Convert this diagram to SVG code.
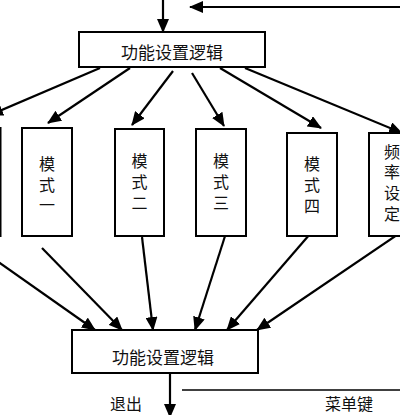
<svg xmlns="http://www.w3.org/2000/svg" width="400" height="415" viewBox="0 0 400 415">
<style>
.box{fill:#fff;stroke:#000;stroke-width:2}
.t{font-family:"Noto Sans CJK SC","Liberation Serif",serif;font-size:17px;fill:#111;text-anchor:middle;dominant-baseline:central}
.v{font-size:16px}
.c{stroke:#000;stroke-width:2.2;fill:none}
</style>
<defs>
<marker id="ah" markerUnits="userSpaceOnUse" markerWidth="14" markerHeight="12" viewBox="0 0 14 12" refX="13" refY="6" orient="auto">
<path d="M0,0 L14,6 L0,12 Z" fill="#000"/>
</marker>
</defs>
<rect width="400" height="415" fill="#fff"/>
<g id="connectors">
<line class="c" x1="163" y1="0" x2="163" y2="32" marker-end="url(#ah)"/>
<line class="c" x1="400" y1="7" x2="190" y2="7" marker-end="url(#ah)"/>
<line class="c" x1="100" y1="68" x2="-10" y2="115" marker-end="url(#ah)"/>
<line class="c" x1="130" y1="68" x2="48" y2="123" marker-end="url(#ah)"/>
<line class="c" x1="173" y1="71" x2="132" y2="125" marker-end="url(#ah)"/>
<line class="c" x1="192" y1="73" x2="224" y2="126" marker-end="url(#ah)"/>
<line class="c" x1="220" y1="68" x2="321" y2="128" marker-end="url(#ah)"/>
<line class="c" x1="245" y1="68" x2="402" y2="133" marker-end="url(#ah)"/>
<line class="c" x1="-20" y1="249" x2="95" y2="330" marker-end="url(#ah)"/>
<line class="c" x1="42" y1="248" x2="122" y2="330" marker-end="url(#ah)"/>
<line class="c" x1="142" y1="237" x2="153" y2="330" marker-end="url(#ah)"/>
<line class="c" x1="226" y1="233" x2="195" y2="330" marker-end="url(#ah)"/>
<line class="c" x1="310" y1="234" x2="227" y2="330" marker-end="url(#ah)"/>
<line class="c" x1="400" y1="233" x2="257" y2="330" marker-end="url(#ah)"/>
<line class="c" x1="170" y1="373" x2="170" y2="417" marker-end="url(#ah)"/>
<line x1="182" y1="390" x2="400" y2="390" stroke="#000" stroke-width="1.5"/>
</g>
<g id="top">
<rect class="box" x="79" y="32" width="186" height="35"/>
<text class="t" x="172" y="51">功能设置逻辑</text>
</g>
<g id="m0">
<rect class="box" x="-50" y="128" width="50.5" height="108"/>
</g>
<g id="m1">
<rect class="box" x="22" y="128" width="50" height="108"/>
<text class="t v" x="47" y="163">模<tspan x="47" dy="21">式</tspan><tspan x="47" dy="20">一</tspan></text>
</g>
<g id="m2">
<rect class="box" x="115" y="129" width="49" height="107"/>
<text class="t v" x="139.5" y="160">模<tspan x="139.5" dy="21">式</tspan><tspan x="139.5" dy="21">二</tspan></text>
</g>
<g id="m3">
<rect class="box" x="196" y="129" width="50" height="107"/>
<text class="t v" x="221" y="160">模<tspan x="221" dy="21">式</tspan><tspan x="221" dy="21">三</tspan></text>
</g>
<g id="m4">
<rect class="box" x="287" y="133" width="50" height="103"/>
<text class="t v" x="312" y="163">模<tspan x="312" dy="21">式</tspan><tspan x="312" dy="21">四</tspan></text>
</g>
<g id="m5">
<rect class="box" x="369" y="133" width="50" height="103"/>
<text class="t v" x="392" y="151">频<tspan x="392" dy="20">率</tspan><tspan x="392" dy="21">设</tspan><tspan x="392" dy="21">定</tspan></text>
</g>
<g id="bottom">
<rect class="box" x="72" y="330" width="186" height="43"/>
<text class="t" x="163" y="356">功能设置逻辑</text>
</g>
<text class="t v" x="126" y="403">退出</text>
<text class="t v" x="349" y="403">菜单键</text>
</svg>
